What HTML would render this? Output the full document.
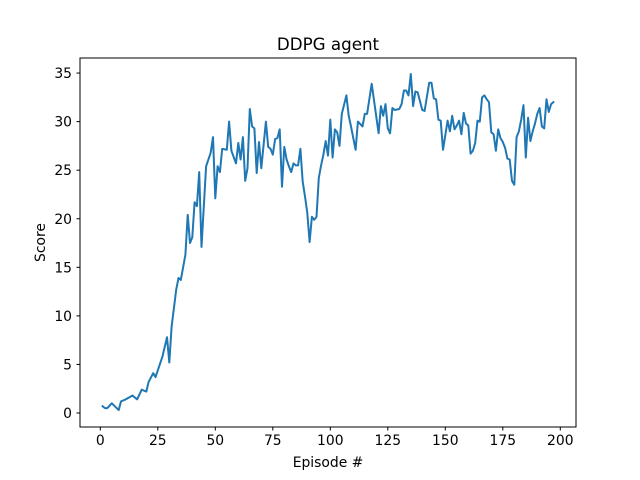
<!DOCTYPE html>
<html><head><meta charset="utf-8"><style>
body{margin:0;background:#fff;}
svg{display:block;font-family:"DejaVu Sans","Liberation Sans",sans-serif;}
</style></head><body>
<svg id="chart" width="640" height="480">
<rect width="640" height="480" fill="#fff"/>
<text x="328" y="50" font-size="16.7" text-anchor="middle">DDPG agent</text>
<g id="plot"></g>
<rect x="80" y="58" width="496" height="369" fill="none" stroke="#000" stroke-width="1"/>
<text x="328" y="467" font-size="13.9" text-anchor="middle">Episode #</text>
<text transform="translate(45,242.5) rotate(-90)" font-size="13.9" text-anchor="middle">Score</text>
</svg>
<script>
const episodes=[1,2,3,5,8,9,11,14,16,18,20,21,23,24,25,27,29,30,31,33,34,35,37,38,39,40,41,42,43,44,46,48,49,50,51,52,53,55,56,57,59,60,61,62,63,64,65,66,67,68,69,70,72,73,74,75,76,77,78,79,80,81,82,83,84,85,86,87,88,89,90,91,92,93,94,95,96,97,98,99,100,101,102,103,104,105,107,108,109,111,112,114,115,116,118,119,121,122,123,124,125,126,127,128,130,131,132,133,134,135,136,137,138,140,141,143,144,145,146,147,148,149,150,151,152,153,154,155,156,157,158,159,160,161,162,163,164,165,166,167,168,169,170,171,172,173,174,175,176,177,178,179,180,181,182,183,184,185,186,187,188,189,190,191,192,193,194,195,196,197];
const scores=[0.7,0.5,0.5,1.0,0.3,1.2,1.4,1.8,1.4,2.4,2.2,3.2,4.1,3.7,4.4,5.8,7.8,5.2,8.9,12.7,13.9,13.7,16.3,20.4,17.5,18.1,21.7,21.3,24.8,17.1,25.4,26.8,28.4,22.1,25.4,24.8,27.2,27.1,30.0,27.0,25.7,27.8,26.1,28.4,23.9,25.2,31.3,29.5,29.3,24.7,27.9,25.2,30.0,27.4,27.2,26.6,28.2,28.3,29.2,23.3,27.4,26.1,25.4,24.8,25.7,25.5,25.5,27.2,23.8,22.3,20.6,17.6,20.2,19.9,20.2,24.2,25.5,26.6,28.0,26.5,30.2,26.3,29.2,28.9,27.5,30.8,32.7,30.6,29.5,27.1,30.0,29.5,30.8,30.8,33.9,32.2,28.8,31.6,30.6,31.8,29.3,28.8,31.4,31.2,31.3,31.8,33.2,33.2,32.7,34.9,31.6,33.1,33.0,31.2,31.1,34.0,34.0,32.4,32.3,30.2,30.1,27.1,28.6,30.1,29.0,30.6,29.2,29.6,30.1,28.7,30.9,29.8,29.6,26.7,27.0,27.8,30.1,30.0,32.5,32.7,32.3,32.0,28.9,28.7,27.0,29.2,28.3,27.9,27.3,26.2,26.1,23.9,23.5,28.4,29.0,30.2,31.7,26.3,30.4,28.0,29.0,29.8,30.8,31.4,29.5,29.3,32.3,31.0,31.8,32.0];
const xTicks=[0,25,50,75,100,125,150,175,200];
const yTicks=[0,5,10,15,20,25,30,35];
const NS="http://www.w3.org/2000/svg";
const X0=80,X1=576,Y0=427,Y1=58,XMIN=-8.83,XMAX=206.83,YMIN=-1.44,YMAX=36.55;
function xs(v){return X0+(v-XMIN)/(XMAX-XMIN)*(X1-X0);}
function ys(v){return Y0-(v-YMIN)/(YMAX-YMIN)*(Y0-Y1);}
const g=document.getElementById('plot');
function mk(t,a){const e=document.createElementNS(NS,t);for(const k in a)e.setAttribute(k,a[k]);return e;}
xTicks.forEach(t=>{
  const l=mk('line',{x1:xs(t),x2:xs(t),y1:427,y2:430.5,stroke:'#000'});
  
  
  g.appendChild(l);
  const tx=mk('text',{x:xs(t),y:445,'font-size':13.9,'text-anchor':'middle'});
  
  
  tx.textContent=t;g.appendChild(tx);
});
yTicks.forEach(t=>{
  const l=mk('line',{x1:76.5,x2:80,y1:ys(t),y2:ys(t),stroke:'#000'});
  
  
  g.appendChild(l);
  const tx=mk('text',{x:72,y:ys(t)+5,'font-size':13.9,'text-anchor':'end'});
  
  
  tx.textContent=t;g.appendChild(tx);
});
const d=episodes.map((e,i)=>(i?'L':'M')+xs(e).toFixed(2)+' '+ys(scores[i]).toFixed(2)).join(' ');
const p=mk('path',{d:d,fill:'none',stroke:'#1f77b4','stroke-width':2,'stroke-linejoin':'round','stroke-linecap':'square'});


g.appendChild(p);
</script>
</body></html>
